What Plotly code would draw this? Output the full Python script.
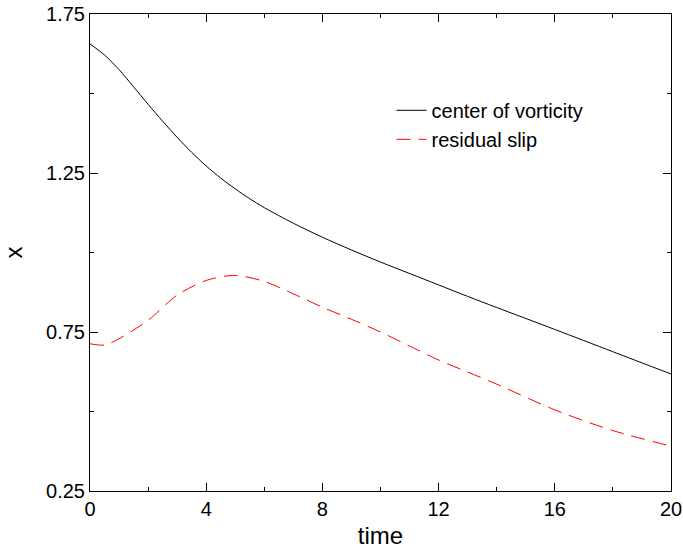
import plotly.graph_objects as go

# center of vorticity
t_cv = [0, 0.5, 1, 1.5, 2, 2.5, 3, 3.5, 4, 4.5, 5, 5.5, 6, 7, 8, 9, 10, 11, 12, 13, 14, 16, 18, 20]
x_cv = [1.656, 1.621, 1.575, 1.521, 1.466, 1.413, 1.362, 1.315, 1.272, 1.234, 1.200, 1.169,
        1.141, 1.092, 1.048, 1.008, 0.970, 0.934, 0.898, 0.862, 0.827, 0.758, 0.688, 0.618]

# residual slip
t_rs = [0, 0.5, 1, 2, 3, 4, 5, 6, 7, 8, 9, 10, 11, 12, 13, 14, 16, 18, 20]
x_rs = [0.713, 0.709, 0.729, 0.787, 0.866, 0.912, 0.928, 0.909, 0.870, 0.828, 0.790,
        0.750, 0.706, 0.662, 0.624, 0.586, 0.505, 0.440, 0.391]

fig = go.Figure()
fig.add_trace(go.Scatter(x=t_cv, y=x_cv, mode="lines", name="center of vorticity",
                         line=dict(color="black", width=1, shape="spline", smoothing=0.8)))
fig.add_trace(go.Scatter(x=t_rs, y=x_rs, mode="lines", name="residual slip",
                         line=dict(color="red", width=1, shape="spline", smoothing=0.8,
                                   dash="14px,8px")))

font = dict(family="Liberation Sans, Arial, Helvetica, sans-serif", size=20, color="black")

fig.update_layout(
    width=683, height=550,
    margin=dict(l=90, r=12, t=14, b=59),
    paper_bgcolor="white", plot_bgcolor="white",
    font=font,
    showlegend=True,
    legend=dict(x=0.519, y=0.839, xanchor="left", yanchor="top",
                bgcolor="rgba(0,0,0,0)", font=font, tracegroupgap=0),
    xaxis=dict(range=[0, 20], tick0=0, dtick=4, ticks="inside", ticklen=8,
               tickcolor="black", showline=True, linecolor="black", linewidth=1,
               mirror="allticks", showgrid=False, zeroline=False, automargin=False,
               title=dict(text="time", standoff=8),
               minor=dict(dtick=2, ticks="inside", ticklen=4, tickcolor="black", showgrid=False)),
    yaxis=dict(range=[0.25, 1.75], tick0=0.25, dtick=0.5, tickformat=".2f",
               ticks="inside", ticklen=8, tickcolor="black", showline=True,
               linecolor="black", linewidth=1, mirror="allticks", showgrid=False,
               zeroline=False, automargin=False, title=dict(text="x", standoff=16),
               minor=dict(dtick=0.25, tick0=0.25, ticks="inside", ticklen=4, tickcolor="black", showgrid=False)),
)

fig.write_html("out.html")
